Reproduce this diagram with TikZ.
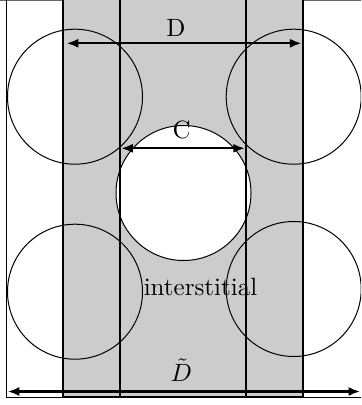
\documentclass[tikz,border=0pt]{standalone}
\usetikzlibrary{arrows.meta}
\begin{document}
\begin{tikzpicture}[x=0.4pt,y=-0.4pt,
  ball/.style={circle,draw,line width=0.4pt,minimum size=54pt,inner sep=0pt},
  dimline/.style={line width=0.9pt,{Latex[length=4.7pt,width=3.6pt]}-{Latex[length=4.7pt,width=3.6pt]}},
  lbl/.style={anchor=base,inner sep=0pt},
  bandline/.style={line width=0.5pt},
  frameline/.style={line width=0.4pt}]
\useasboundingbox (0,0) rectangle (361,405);
\clip (0,0) rectangle (361,405);
% frame
\draw[frameline,black!60] (0,0.5) -- (361,0.5);
\draw[frameline] (6,0.5) -- (6,397) -- (361,397);
% band
\fill[black!20] (63,-5) rectangle (303,397);
% balls
\node[ball] (tl) at (75,96.7) {};
\node[ball] (tr) at (293.7,96.7) {};
\node[ball] (bl) at (75,291.7) {};
\node[ball] (br) at (293.7,289) {};
\node[ball,fill=white] (mid) at (183.5,193) {};
% band lines on top
\draw[bandline] (63,-5) -- (63,397) -- (303,397) -- (303,-5);
\draw[bandline] (120,-5) -- (120,397);
\draw[bandline] (246,-5) -- (246,397);
% dimension arrows
\coordinate (dL) at (66.5,43.3);
\coordinate (dR) at (301.7,43.3);
\coordinate (cL) at (121,148.3);
\coordinate (cR) at (245,148.3);
\coordinate (tL) at (7.5,391.5);
\coordinate (tR) at (360.3,391.5);
\draw[dimline] (dL) -- (dR);
\draw[dimline] (cL) -- (cR);
\draw[dimline] (tL) -- (tR);
% labels
\node[lbl] (labD) at (176,36.7) {D};
\node[lbl] (labC) at (181.7,139) {C};
\node[lbl] (labI) at (200.5,295) {interstitial};
\node[lbl] (labDt) at (181.3,381.7) {$\tilde{D}$};
\end{tikzpicture}
\end{document}
